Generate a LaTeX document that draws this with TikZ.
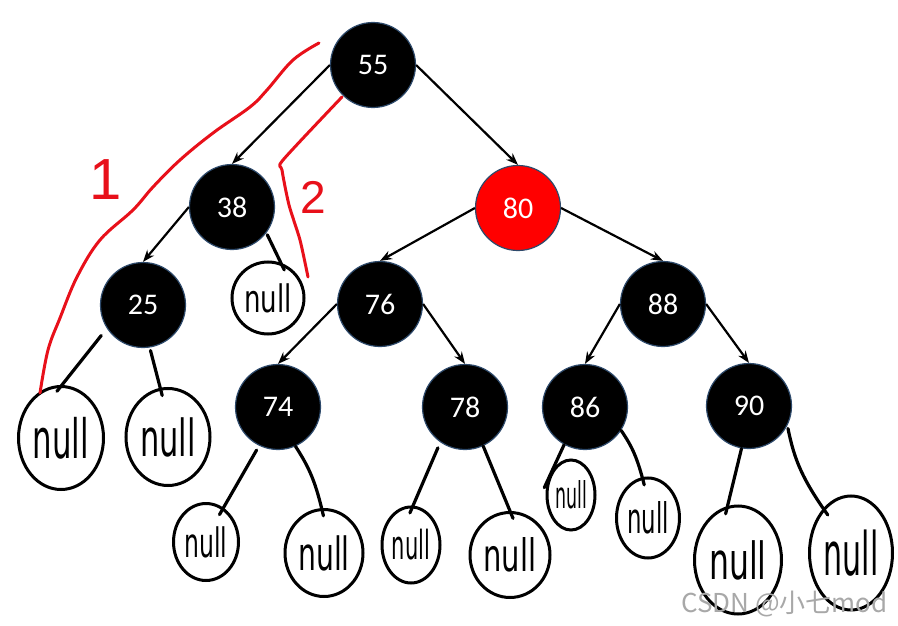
\documentclass[tikz,border=0pt]{standalone}
\usepackage{fontspec}
\setmainfont{Carlito}
\newfontfamily\handfont{DejaVu Sans}
\newfontfamily\cjkfont{Noto Sans CJK SC}
\newfontfamily\penfont{Liberation Sans}
\usetikzlibrary{arrows.meta,shapes.geometric}
\definecolor{rbred}{HTML}{FF0000}
\definecolor{rimblue}{HTML}{2E4A6B}
\definecolor{penred}{HTML}{E8101A}
\definecolor{wmgray}{HTML}{A8A8A8}
\tikzset{
  rbnode/.style={circle, minimum size=85pt, inner sep=0pt, draw=rimblue, line width=1.2pt,
    text=white, font=\fontsize{30}{30}\selectfont},
  blacknode/.style={rbnode, fill=black},
  rednode/.style={rbnode, fill=rbred},
  treearrow/.style={-{Stealth[length=12pt,width=9pt]}, line width=2.2pt},
  nullblob/.style={ellipse, draw, line width=3pt, inner sep=0pt},
  nullline/.style={line width=3.2pt, line cap=round, shorten >=-8pt},
  redpen/.style={penred, line width=3pt, line cap=round, line join=round},
}
\newcommand{\nulltxt}[2]{\resizebox{#1pt}{#2pt}{\handfont null}}
\newcommand{\blobt}[6]{\node[nullblob, minimum width=#3pt, minimum height=#4pt] (#5) at (#1,#2)
  {\nulltxt{\fpeval{0.66*#3}}{\fpeval{#6*#4}}};}
\newcommand{\blob}[5]{\blobt{#1}{#2}{#3}{#4}{#5}{0.40}}
\begin{document}
\begin{tikzpicture}[x=1pt,y=-1pt]
\useasboundingbox (0,0) rectangle (898,626);
% tree nodes
\node[blacknode] (n55) at (373,65) {55};
\node[blacknode] (n38) at (232,207) {38};
\node[rednode]   (n80) at (518,208) {80};
\node[blacknode] (n25) at (143,305) {25};
\node[blacknode] (n76) at (380,304) {76};
\node[blacknode] (n88) at (663,304) {88};
\node[blacknode] (n74) at (278,407) {74};
\node[blacknode] (n78) at (465,407) {78};
\node[blacknode] (n86) at (585,407) {86};
\node[blacknode] (n90) at (749,406) {90};
% arrows
\draw[treearrow] (n55.west) -- (n38.north);
\draw[treearrow] (n55.east) -- (n80.north);
\draw[treearrow] (n38.west) -- (n25.north);
\draw[treearrow] (n80.west) -- (n76.north);
\draw[treearrow] (n80.east) -- (n88.north);
\draw[treearrow] (n76.west) -- (n74.north);
\draw[treearrow] (n76.east) -- (n78.north);
\draw[treearrow] (n88.west) -- (n86.north);
\draw[treearrow] (n88.east) -- (n90.north);
% null blobs
\blob{268}{298}{72}{72}{nl38}
\blob{61}{438}{85}{103}{nl25a}
\blob{168}{437}{84}{97}{nl25b}
\blob{206}{542}{65}{77}{nl74a}
\blob{324}{553}{78}{87}{nl74b}
\blob{411}{545}{58}{76}{nl78a}
\blob{510}{555}{80}{85}{nl78b}
\blob{571}{495}{48}{70}{nl86a}
\blob{648}{518}{63}{80}{nl86b}
\blobt{738}{560}{87}{108}{nl90a}{0.36}
\blob{851}{553}{83}{114}{nl90b}
% null connectors
\draw[nullline, shorten <=2pt] (n38.-37) -- (nl38.70);
\draw[nullline, shorten <=9pt] (n25.-147) -- (nl25a.89);
\draw[nullline, shorten <=3pt] (n25.-81) -- (nl25b.99);
\draw[nullline, shorten <=5pt] (n74.-116) -- (nl74a.63);
\draw[nullline] (n74.-66) to[bend left=10] (nl74b.93);
\draw[nullline, shorten <=6pt] (n78.-125) -- (nl78a.87);
\draw[nullline] (n78.-65) -- (nl78b.90);
\draw[nullline] (n86.-119) -- (nl86a.148);
\draw[nullline] (n86.-33) to[bend left=10] (nl86b.98);
\draw[nullline] (n90.-100) -- (nl90a.101);
\draw[nullline, shorten <=3pt] (n90.-27) to[bend right=12] (nl90b.122);
% red annotations
\draw[redpen] plot[smooth, tension=0.6] coordinates {(319,43) (293,60) (267,90) (250,107) (213,133)
  (180,160) (153,187) (133,210) (100,240) (77,277) (60,318) (48,350) (40,393)};
\draw[redpen] plot[smooth, tension=0.4] coordinates {(342,97) (283,160) (282,170) (289,205) (300,240) (308,277)};
\node[penred, font=\penfont\fontsize{58}{58}\selectfont, inner sep=0pt] (lab1) at (106,180) {1};
\node[penred, font=\penfont\fontsize{46}{46}\selectfont, inner sep=0pt] (lab2) at (313,197) {2};
% watermark
\node[wmgray, font=\cjkfont\fontsize{26}{26}\selectfont, inner sep=0pt, anchor=base east] (wm) at (888,612) {CSDN @小七mod};
\end{tikzpicture}
\end{document}
